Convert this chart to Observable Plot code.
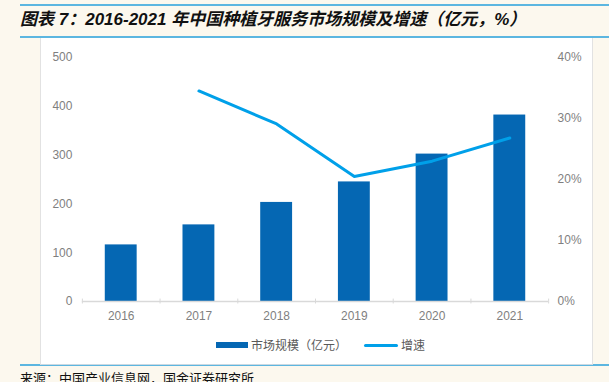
<!DOCTYPE html>
<html><head><meta charset="utf-8">
<script src="https://cdn.jsdelivr.net/npm/d3@7"></script>
<script src="https://cdn.jsdelivr.net/npm/@observablehq/plot@0.6"></script>
<style>
html,body{margin:0;padding:0;}
body{width:609px;height:382px;overflow:hidden;position:relative;background:#fcf8ee;font-family:"Liberation Sans","Noto Sans CJK SC",sans-serif;}
.hl{position:absolute;left:20px;width:589px;height:2px;background:#5cb6e0;}
#title{position:absolute;left:20px;top:10px;font-size:17px;font-weight:bold;font-style:italic;color:#111;white-space:nowrap;line-height:20px;font-family:"Liberation Sans","Noto Sans CJK SC",sans-serif;}
#panel{position:absolute;left:40px;top:38px;width:551px;height:326px;background:#fff;border-left:1px solid #e2e2e2;border-right:1px solid #e2e2e2;border-bottom:1px solid #cbd9e2;}
#chart{position:absolute;left:0;top:0;}
#legend{position:absolute;left:0;top:298px;width:551px;height:20px;font-size:12px;color:#595959;font-family:"Noto Sans CJK SC",sans-serif;}
.sw{position:absolute;}
.lt{position:absolute;top:0;line-height:18px;white-space:nowrap;}
#source{position:absolute;left:20px;top:368px;font-size:13px;color:#111;white-space:nowrap;font-family:"Noto Sans CJK SC",sans-serif;}
</style></head>
<body>
<div class="hl" style="top:4px"></div>
<div id="title">图表 7：2016-2021 年中国种植牙服务市场规模及增速（亿元，%）</div>
<div class="hl" style="top:36px"></div>
<div class="hl" style="top:364px"></div>
<div id="panel">
  <div id="chart"></div>
  <div id="legend">
    <div class="sw" style="left:175px;top:6px;width:32px;height:6px;background:#0567b3"></div>
    <div class="lt" style="left:210px">市场规模（亿元）</div>
    <div class="sw" style="left:323px;top:8px;width:34px;height:3px;border-radius:2px;background:#00a0e9"></div>
    <div class="lt" style="left:360px">增速</div>
  </div>
</div>
<div id="source">来源：中国产业信息网，国金证券研究所</div>
<script>
const years = ["2016","2017","2018","2019","2020","2021"];
const marketSize = [116,157,203,245,302,382];
const growthYears = ["2017","2018","2019","2020","2021"];
const growthPct = [34.5,29.1,20.5,23.0,26.8];
const leftTicks = [0,100,200,300,400,500];
const rightTicks = [0,10,20,30,40];

const k = leftTicks[leftTicks.length-1] / rightTicks[rightTicks.length-1];
const sizeData = years.map((y,i)=>({year:y, value:marketSize[i]}));
const growthData = growthYears.map((y,i)=>({year:y, pct:growthPct[i]}));

const W = 553, H = 290, mL = 41, mR = 44;
const step = (W - mL - mR) / years.length;
const edges = years.map(y=>({year:y, dx:-step/2})).concat([{year:years[years.length-1], dx:step/2}]);

const chart = Plot.plot({
  width: W, height: H,
  marginLeft: mL, marginRight: mR, marginTop: 19, marginBottom: 26,
  style: {color:"#7f7f7f", fontSize:"12px", fontFamily:"'Liberation Sans', Arial, sans-serif", background:"transparent"},
  x: {type:"band", domain: years, paddingInner:0.59, paddingOuter:0.295, label:null},
  y: {domain:[0, leftTicks[leftTicks.length-1]], label:null},
  marks: [
    Plot.axisY({ticks:leftTicks, anchor:"left", tickSize:0, tickPadding:10, label:null, fontSize:12}),
    Plot.axisY({ticks:rightTicks.map(p=>p*k), anchor:"right", tickSize:0, tickPadding:9, label:null, fontSize:12, tickFormat:d=>Math.round(d/k)+"%"}),
    Plot.axisX({tickSize:0, tickPadding:10, label:null, fontSize:12}),
    Plot.barY(sizeData, {x:"year", y:"value", fill:"#0567b3"}),
    Plot.ruleY([0], {stroke:"#d9d9d9", strokeWidth:1.5}),
    ...edges.map(e=>Plot.ruleX([e], {x:"year", y1:-5, y2:5, dx:e.dx, stroke:"#d9d9d9"})),
    Plot.line(growthData, {x:"year", y:d=>d.pct*k, stroke:"#00a0e9", strokeWidth:3, strokeLinejoin:"round", strokeLinecap:"round"})
  ]
});
document.getElementById("chart").appendChild(chart);
</script>
</body></html>
